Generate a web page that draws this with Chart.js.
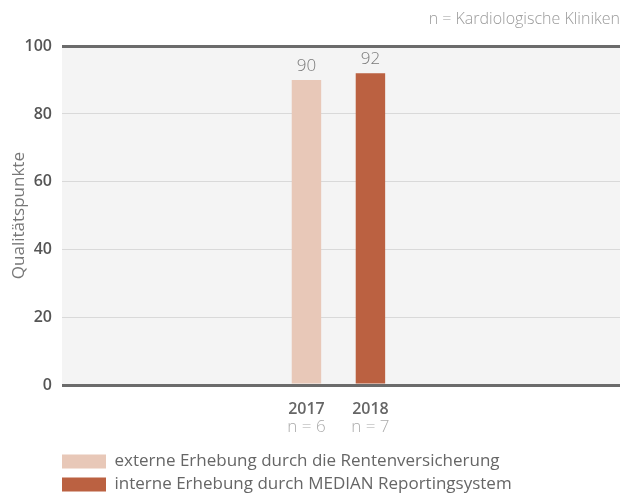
<!DOCTYPE html>
<html lang="de">
<head>
<meta charset="utf-8">
<title>Qualitätspunkte Kardiologie</title>
<script src="https://cdn.jsdelivr.net/npm/chart.js@4.4.1/dist/chart.umd.min.js"></script>
<style>
  html, body { margin: 0; padding: 0; background: #fff; }
  #wrap { width: 620px; height: 497px; position: relative; }
</style>
</head>
<body>
<div id="wrap"><canvas id="qualityChart"></canvas></div>
<script>
// ===== DATA =====
const years = [2017, 2018];
const sampleSizes = [6, 7];
const externalScores = [90, null];   // Rentenversicherung
const internalScores = [null, 92];   // MEDIAN Reportingsystem
const yTicks = [0, 20, 40, 60, 80, 100];

const seriesLabels = [
  'externe Erhebung durch die Rentenversicherung',
  'interne Erhebung durch MEDIAN Reportingsystem'
];
const seriesColors = ['#e8c8b8', '#bb6141'];

const FONT = "'Open Sans', 'Noto Sans', sans-serif";
const LEGEND_PAD = 6;

const toPoints = values => years
  .map((yr, i) => ({ x: yr, y: values[i] }))
  .filter(p => p.y !== null);

// ===== PLOT BACKGROUND + LABELS =====
const decorPlugin = {
  id: 'decor',
  afterLayout(chart) {
    // legend rows start flush with the plot's left edge
    chart.legend.left = chart.chartArea.left - LEGEND_PAD;
  },
  beforeDraw(chart) {
    const { ctx, chartArea: a } = chart;
    ctx.save();
    ctx.fillStyle = '#f4f4f4';
    ctx.fillRect(a.left, a.top, a.right - a.left, a.bottom - a.top);
    ctx.restore();
  },
  afterDatasetsDraw(chart) {
    const { ctx } = chart;
    ctx.save();
    ctx.textAlign = 'center';
    ctx.textBaseline = 'alphabetic';
    ctx.fillStyle = '#7a7a7a';
    ctx.font = `300 17px ${FONT}`;
    chart.data.datasets.forEach((ds, di) => {
      chart.getDatasetMeta(di).data.forEach((bar, i) => {
        ctx.fillText(ds.data[i].y, bar.x, bar.y - 9);
      });
    });
    ctx.restore();
  },
  afterDraw(chart) {
    // sample size under each year label
    const { ctx, scales: { x } } = chart;
    ctx.save();
    ctx.textAlign = 'center';
    ctx.textBaseline = 'middle';
    ctx.fillStyle = '#aaaaaa';
    ctx.font = `300 17px ${FONT}`;
    years.forEach((yr, i) => {
      ctx.fillText(`n = ${sampleSizes[i]}`, x.getPixelForValue(yr), chart.chartArea.bottom + 42);
    });
    ctx.restore();
  }
};

const ctx = document.getElementById('qualityChart').getContext('2d');
new Chart(ctx, {
  type: 'bar',
  data: {
    datasets: [
      { label: seriesLabels[0], data: toPoints(externalScores), backgroundColor: seriesColors[0] },
      { label: seriesLabels[1], data: toPoints(internalScores), backgroundColor: seriesColors[1] }
    ]
  },
  options: {
    responsive: true,
    maintainAspectRatio: false,
    animation: false,
    layout: { padding: { top: 0, left: 0, right: 0, bottom: -6 } },
    datasets: {
      bar: { grouped: false, barPercentage: 0.46, categoryPercentage: 1 }
    },
    plugins: {
      tooltip: { enabled: false },
      title: {
        display: true,
        text: 'n = Kardiologische Kliniken',
        align: 'end',
        color: '#9a9a9a',
        font: { family: FONT, size: 16, weight: 300 },
        padding: { top: 10, bottom: 17 }
      },
      legend: {
        position: 'bottom',
        align: 'start',
        fullSize: false,
        labels: {
          boxWidth: 44,
          boxHeight: 14,
          padding: LEGEND_PAD,
          color: '#666',
          font: { family: FONT, size: 17 }
        }
      }
    },
    scales: {
      x: {
        type: 'linear',
        min: 2013.18,
        max: 2021.9,
        offset: false,
        grid: { display: false, drawTicks: false },
        border: { display: false },
        afterBuildTicks: scale => { scale.ticks = years.map(v => ({ value: v })); },
        afterFit: scale => { scale.height = 62; },
        ticks: {
          autoSkip: false,
          maxRotation: 0,
          padding: 15,
          color: '#666',
          font: { family: FONT, size: 16, weight: 600 },
          callback: v => String(v)
        }
      },
      y: {
        min: 0,
        max: 100,
        afterBuildTicks: scale => { scale.ticks = yTicks.map(v => ({ value: v })); },
        afterFit: scale => { scale.width = 62; },
        border: { display: false },
        grid: {
          drawTicks: false,
          color: c => (c.tick.value === 0 || c.tick.value === 100) ? '#6b6b6b' : '#d9d9d9',
          lineWidth: c => (c.tick.value === 0 || c.tick.value === 100) ? 3 : 1
        },
        ticks: {
          padding: 10,
          color: '#555',
          font: { family: FONT, size: 16, weight: 600 }
        },
        title: {
          display: true,
          text: 'Qualitätspunkte',
          color: '#777',
          font: { family: FONT, size: 17, weight: 400 },
          padding: { top: 9, bottom: 0 }
        }
      }
    }
  },
  plugins: [decorPlugin]
});
</script>
</body>
</html>
